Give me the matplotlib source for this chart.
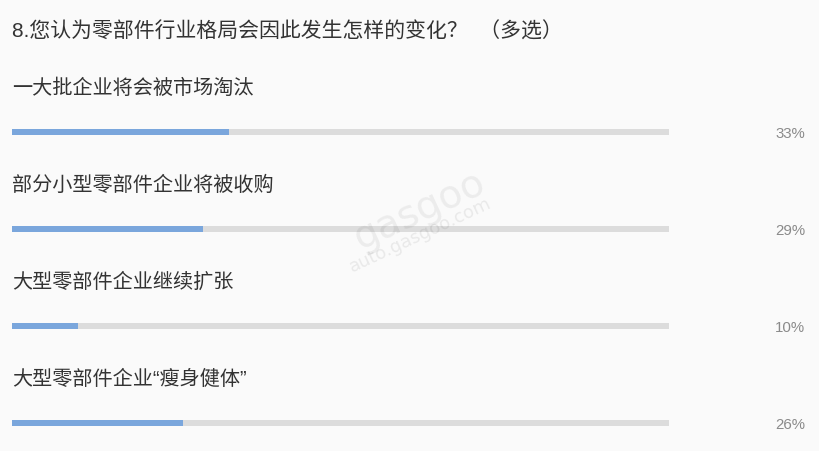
import matplotlib
matplotlib.use("Agg")
import matplotlib.pyplot as plt

plt.rcParams['font.family'] = ['Noto Sans CJK SC', 'DejaVu Sans']
MIXED = ['Liberation Sans', 'Noto Sans CJK SC', 'DejaVu Sans']

title = "8.您认为零部件行业格局会因此发生怎样的变化？  （多选）"
categories = ["一大批企业将会被市场淘汰", "部分小型零部件企业将被收购",
              "大型零部件企业继续扩张", "大型零部件企业“瘦身健体”"]
values = [33, 29, 10, 26]
pct_labels = ["33%", "29%", "10%", "26%"]

W, H = 820, 452
fig = plt.figure(figsize=(W / 100, H / 100), dpi=100, facecolor='#fafafa')

# title
fig.text(12 / W, 1 - 32 / H, title, fontsize=15, color='#333333', va='center', ha='left',
         family=MIXED)

ax = fig.add_axes([12 / W, 0, 657 / W, 1])
ax.set_facecolor('none')
ax.set_xlim(0, 100)
ax.set_ylim(H, 0)
ax.axis('off')

y0, step = 133, 97
ys = [y0 + i * step for i in range(len(categories))]

ax.barh(ys, [100] * len(ys), height=6, color='#dcdcdc', edgecolor='none')
ax.barh(ys, values, height=6, color='#7aa6dc', edgecolor='none')

for y, cat, pl in zip(ys, categories, pct_labels):
    ax.text(0, y - 45, cat, fontsize=14.5, color='#333333', va='center', ha='left',
            family=MIXED)
    ax.annotate(pl, xy=(805 / W, y + 1), xycoords=('figure fraction', 'data'),
                fontsize=10.8, color='#8a8a8a', va='center', ha='right',
                family=['Liberation Sans', 'DejaVu Sans'])

# faint watermark
fig.text(420 / W, 1 - 235 / H, "auto.gasgoo.com", fontsize=13, color='#000000', alpha=0.07,
         rotation=25, ha='center', va='center', family=['DejaVu Sans'])
fig.text(420 / W, 1 - 210 / H, "gasgoo", fontsize=28, color='#000000', alpha=0.06,
         rotation=25, ha='center', va='center', family=['DejaVu Sans'])

fig.savefig("out.png", dpi=100, facecolor=fig.get_facecolor())
